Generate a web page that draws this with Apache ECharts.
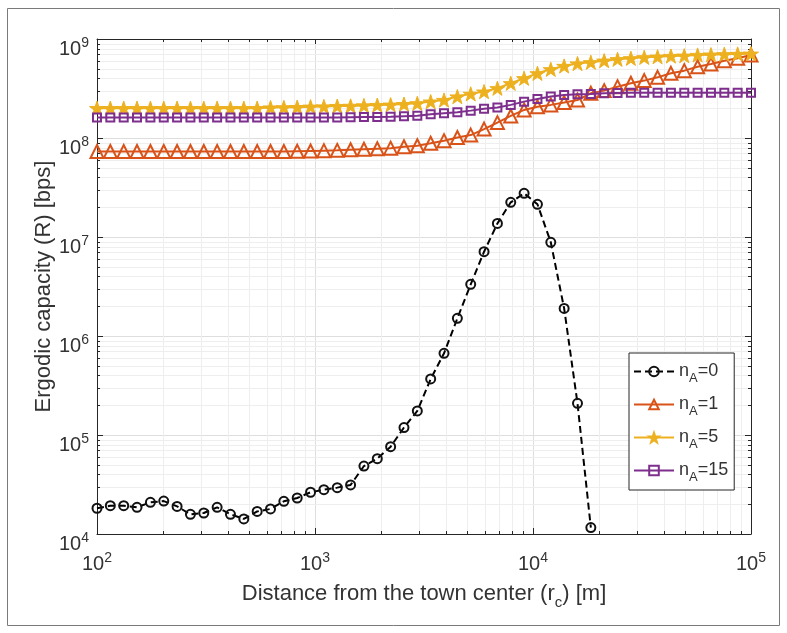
<!DOCTYPE html>
<html>
<head>
<meta charset="utf-8">
<script src="https://cdn.jsdelivr.net/npm/echarts@6/dist/echarts.min.js"></script>
<style>
  html, body { margin: 0; padding: 0; background: #fff; }
  #chart { width: 787px; height: 633px; }
</style>
</head>
<body>
<div id="chart"></div>
<script>
// distance from the town center r_c [m] (50 log-spaced samples)
const distance = [
  100, 115.1, 132.6, 152.6, 175.8, 202.4, 233.0, 268.3, 308.9, 355.7,
  409.5, 471.5, 542.9, 625.1, 719.7, 828.6, 954.1, 1098.5, 1264.9, 1456.3,
  1676.8, 1930.7, 2223.0, 2559.5, 2947.1, 3393.2, 3906.9, 4498.4, 5179.5, 5963.6,
  6866.5, 7906.0, 9103.0, 10481, 12068, 13895, 15999, 18421, 21210, 24421,
  28118, 32375, 37276, 42919, 49417, 56899, 65513, 75431, 86851, 100000
];

// ergodic capacity [bps]
const capA0 = [
  1.82e4, 1.93e4, 1.93e4, 1.86e4, 2.09e4, 2.15e4, 1.90e4, 1.58e4, 1.63e4, 1.86e4,
  1.58e4, 1.42e4, 1.69e4, 1.79e4, 2.14e4, 2.31e4, 2.64e4, 2.80e4, 2.94e4, 3.13e4,
  4.86e4, 5.77e4, 7.62e4, 1.19e5, 1.75e5, 3.68e5, 6.69e5, 1.51e6, 3.33e6, 7.10e6,
  1.37e7, 2.24e7, 2.76e7, 2.14e7, 8.84e6, 1.90e6, 2.09e5, 1.16e4
];
const capA1 = [
  7.3e7, 7.3e7, 7.3e7, 7.3e7, 7.3e7, 7.3e7, 7.3e7, 7.3e7, 7.3e7, 7.3e7,
  7.3e7, 7.3e7, 7.3e7, 7.3e7, 7.3e7, 7.35e7, 7.4e7, 7.45e7, 7.5e7, 7.6e7,
  7.7e7, 7.8e7, 7.9e7, 8.15e7, 8.35e7, 8.85e7, 9.4e7, 1.01e8, 1.07e8, 1.23e8,
  1.43e8, 1.67e8, 1.92e8, 2.07e8, 2.16e8, 2.28e8, 2.42e8, 2.83e8, 3.01e8, 3.3e8,
  3.57e8, 3.8e8, 4.1e8, 4.5e8, 4.79e8, 5.25e8, 5.6e8, 6.04e8, 6.39e8, 6.89e8
];
const capA5 = [
  2.0e8, 2.0e8, 2.0e8, 2.0e8, 2.0e8, 2.0e8, 2.0e8, 2.0e8, 2.0e8, 2.0e8,
  2.0e8, 2.0e8, 2.0e8, 2.03e8, 2.04e8, 2.05e8, 2.07e8, 2.08e8, 2.1e8, 2.11e8,
  2.13e8, 2.15e8, 2.17e8, 2.2e8, 2.24e8, 2.33e8, 2.42e8, 2.62e8, 2.79e8, 2.94e8,
  3.18e8, 3.57e8, 4.01e8, 4.5e8, 4.94e8, 5.34e8, 5.65e8, 5.82e8, 6.04e8, 6.24e8,
  6.38e8, 6.53e8, 6.62e8, 6.73e8, 6.78e8, 6.89e8, 6.95e8, 7.01e8, 7.06e8, 7.1e8
];
const capA15 = [
  1.61e8, 1.61e8, 1.61e8, 1.61e8, 1.61e8, 1.61e8, 1.61e8, 1.61e8, 1.61e8, 1.61e8,
  1.61e8, 1.61e8, 1.61e8, 1.61e8, 1.61e8, 1.61e8, 1.61e8, 1.61e8, 1.61e8, 1.62e8,
  1.63e8, 1.63e8, 1.64e8, 1.66e8, 1.68e8, 1.74e8, 1.78e8, 1.82e8, 1.89e8, 1.97e8,
  2.03e8, 2.16e8, 2.33e8, 2.48e8, 2.62e8, 2.72e8, 2.77e8, 2.79e8, 2.83e8, 2.85e8,
  2.87e8, 2.87e8, 2.87e8, 2.87e8, 2.87e8, 2.87e8, 2.87e8, 2.87e8, 2.87e8, 2.87e8
];

const seriesNames = ['nA=0', 'nA=1', 'nA=5', 'nA=15'];
const legendSuffix = ['0', '1', '5', '15'];

// log grid: decades and the minor steps between them
const xDecades = [100, 1000, 10000, 100000];
const yDecades = [1e4, 1e5, 1e6, 1e7, 1e8, 1e9];
const minorSteps = [2, 3, 4, 5, 6, 7, 8, 9];

const FONT = 'Liberation Sans';
const INK = '#262626';
const TXT = '#333333';
const GRID_MAJOR = '#dedede';
const GRID_MINOR = '#eeeeee';

const minorX = [];
xDecades.slice(0, -1).forEach(d => minorSteps.forEach(m => minorX.push(d * m)));
const minorY = [];
yDecades.slice(0, -1).forEach(d => minorSteps.forEach(m => minorY.push(d * m)));

const pair = arr => arr.map((v, i) => [distance[i], v]);

const starPath = 'path://M50,0 L61.8,35.1 L98.1,35.1 L68.7,56.8 L79.4,91 L50,70 L20.6,91 L31.3,56.8 L1.9,35.1 L38.2,35.1 Z';

// power-of-ten tick labels
const powRich = {
  b: { fontSize: 20, lineHeight: 22, padding: [11, 0, 0, 0], verticalAlign: 'top', color: TXT, fontFamily: FONT },
  s: { fontSize: 14, lineHeight: 14, padding: [8, 0, 0, 0], verticalAlign: 'top', color: TXT, fontFamily: FONT }
};
const powLabel = v => '{b|10}{s|' + Math.round(Math.log10(v)) + '}';

const nameRich = {
  t: { fontSize: 22, lineHeight: 24, color: TXT, fontFamily: FONT },
  s: { fontSize: 15, lineHeight: 15, padding: [16, 0, 0, 0], color: TXT, fontFamily: FONT }
};
const legendRich = {
  t: { fontSize: 18, lineHeight: 20, color: TXT, fontFamily: FONT },
  s: { fontSize: 13, lineHeight: 13, padding: [14, 0, 0, 0], color: TXT, fontFamily: FONT }
};

function minorXItem(params, api) {
  const cs = params.coordSys;
  const x = Math.round(api.coord([api.value(0), 1e5])[0]) + 0.5;
  const top = cs.y, bottom = cs.y + cs.height;
  return {
    type: 'group',
    children: [
      { type: 'line', shape: { x1: x, y1: top + 1, x2: x, y2: bottom - 1 }, style: { stroke: GRID_MINOR, lineWidth: 1 } },
      { type: 'line', shape: { x1: x, y1: bottom, x2: x, y2: bottom - 3 }, style: { stroke: INK, lineWidth: 1 } },
      { type: 'line', shape: { x1: x, y1: top, x2: x, y2: top + 3 }, style: { stroke: INK, lineWidth: 1 } }
    ]
  };
}

function minorYItem(params, api) {
  const cs = params.coordSys;
  const y = Math.round(api.coord([1000, api.value(1)])[1]) + 0.5;
  const left = cs.x, right = cs.x + cs.width;
  return {
    type: 'group',
    children: [
      { type: 'line', shape: { x1: left + 1, y1: y, x2: right - 1, y2: y }, style: { stroke: GRID_MINOR, lineWidth: 1 } },
      { type: 'line', shape: { x1: left, y1: y, x2: left + 3, y2: y }, style: { stroke: INK, lineWidth: 1 } },
      { type: 'line', shape: { x1: right, y1: y, x2: right - 3, y2: y }, style: { stroke: INK, lineWidth: 1 } }
    ]
  };
}

const chart = echarts.init(document.getElementById('chart'), null, { renderer: 'canvas' });

const axisCommon = {
  type: 'log',
  logBase: 10,
  axisLine: { show: true, lineStyle: { color: INK, width: 1 } },
  axisTick: { show: true, inside: true, length: 6, lineStyle: { color: INK, width: 1 } }
};

chart.setOption({
  backgroundColor: '#fff',
  animation: false,
  textStyle: { fontFamily: FONT, color: TXT },
  grid: { left: 97, top: 39, width: 654, height: 495, containLabel: false },
  graphic: [{
    type: 'rect',
    silent: true,
    z: -10,
    shape: { x: 7.5, y: 8.5, width: 772, height: 617 },
    style: { fill: null, stroke: '#7a7a7a', lineWidth: 1 }
  }],
  xAxis: [
    Object.assign({}, axisCommon, {
      position: 'bottom',
      min: 100, max: 100000,
      axisLabel: { margin: 9, formatter: powLabel, rich: powRich },
      splitLine: { show: true, lineStyle: { color: GRID_MAJOR, width: 1 } },
      name: '{t|Distance from the town center (r}{s|c}{t|) [m]}',
      nameLocation: 'middle',
      nameGap: 47,
      nameTextStyle: { rich: nameRich }
    }),
    Object.assign({}, axisCommon, {
      position: 'top',
      min: 100, max: 100000,
      axisLabel: { show: false },
      splitLine: { show: false }
    })
  ],
  yAxis: [
    Object.assign({}, axisCommon, {
      position: 'left',
      min: 1e4, max: 1e9,
      axisLabel: { margin: 8, formatter: powLabel, rich: powRich },
      splitLine: { show: true, lineStyle: { color: GRID_MAJOR, width: 1 } },
      name: 'Ergodic capacity (R) [bps]',
      nameLocation: 'middle',
      nameGap: 42,
      nameMoveOverlap: false,
      nameTextStyle: { fontSize: 22, color: TXT, fontFamily: FONT }
    }),
    Object.assign({}, axisCommon, {
      position: 'right',
      min: 1e4, max: 1e9,
      axisLabel: { show: false },
      splitLine: { show: false }
    })
  ],
  legend: {
    data: seriesNames,
    orient: 'vertical',
    left: 629,
    top: 353,
    itemWidth: 40,
    itemHeight: 12,
    itemGap: 6,
    padding: [5, 6, 6, 4],
    borderColor: INK,
    borderWidth: 1,
    borderRadius: 0,
    backgroundColor: '#fff',
    formatter: name => '{t|n}{s|A}{t|=' + legendSuffix[seriesNames.indexOf(name)] + '}',
    textStyle: { rich: legendRich }
  },
  series: [
    {
      type: 'custom', xAxisIndex: 0, yAxisIndex: 0, z: 1, silent: true,
      renderItem: minorXItem, data: minorX.map(v => [v, 1e5])
    },
    {
      type: 'custom', xAxisIndex: 0, yAxisIndex: 0, z: 1, silent: true,
      renderItem: minorYItem, data: minorY.map(v => [1000, v])
    },
    {
      name: seriesNames[0], type: 'line', data: pair(capA0),
      symbol: 'circle', symbolSize: 9, showAllSymbol: true,
      lineStyle: { color: '#000', width: 2, type: [7, 4] },
      itemStyle: { color: 'transparent', borderColor: '#111', borderWidth: 2 },
      z: 3
    },
    {
      name: seriesNames[1], type: 'line', data: pair(capA1),
      symbol: 'triangle', symbolSize: 13, showAllSymbol: true,
      lineStyle: { color: '#D95319', width: 2 },
      itemStyle: { color: 'transparent', borderColor: '#D95319', borderWidth: 2 },
      z: 4
    },
    {
      name: seriesNames[2], type: 'line', data: pair(capA5),
      symbol: starPath, symbolSize: 15, symbolKeepAspect: true, showAllSymbol: true,
      lineStyle: { color: '#EDB120', width: 2 },
      itemStyle: { color: '#EDB120', borderColor: '#EDB120', borderWidth: 1 },
      z: 5
    },
    {
      name: seriesNames[3], type: 'line', data: pair(capA15),
      symbol: 'rect', symbolSize: 8, showAllSymbol: true,
      lineStyle: { color: '#7E2F8E', width: 2 },
      itemStyle: { color: 'transparent', borderColor: '#7E2F8E', borderWidth: 2 },
      z: 6
    }
  ]
});
</script>
</body>
</html>
